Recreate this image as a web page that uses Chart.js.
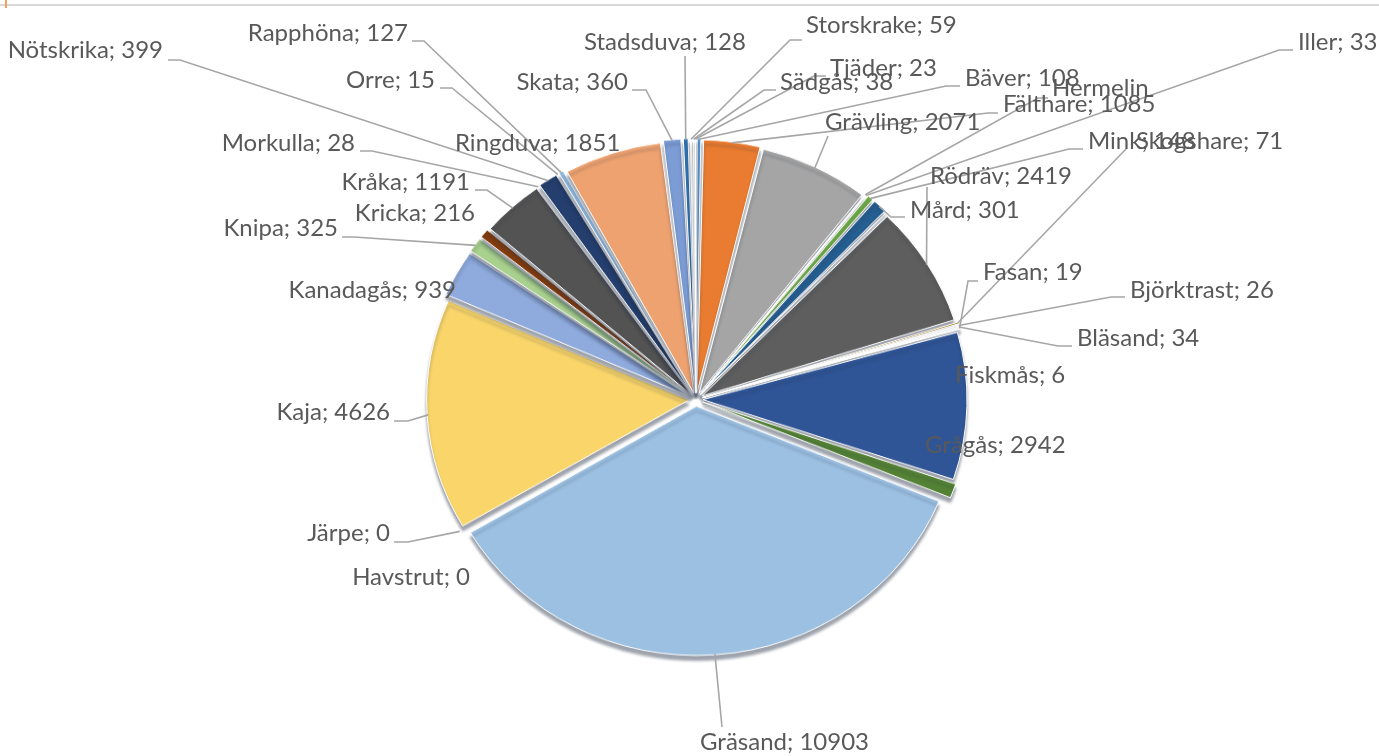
<!DOCTYPE html>
<html>
<head>
<meta charset="utf-8">
<script src="https://cdn.jsdelivr.net/npm/chart.js@4/dist/chart.umd.min.js"></script>
<style>
  html, body { margin: 0; padding: 0; background: #ffffff; }
  #wrap { position: relative; width: 1379px; height: 756px; overflow: hidden; }
  #topline { position: absolute; left: 0; top: 4px; width: 1379px; height: 2px; background: #d9d9d9; }
  #mark { position: absolute; left: 5px; top: 0; width: 2px; height: 8px; background: #f0a060; }
  #c { position: absolute; left: 0; top: 0; transform-origin: 0 0; transform: scaleY(0.95); }
  #labels { position: absolute; left: 0; top: 0; }
</style>
</head>
<body>
<div id="wrap">
  <canvas id="c" width="1379" height="756"></canvas>
  <canvas id="labels" width="1379" height="756"></canvas>
  <div id="topline"></div>
  <div id="mark"></div>
</div>
<script>
// ---- data (clockwise from 12 o'clock) ----
const categories = [
  'Bäver', 'Fälthare', 'Grävling', 'Hermelin', 'Iller', 'Mink', 'Mård', '',
  'Rödräv', 'Skogshare', 'Björktrast', 'Bläsand', 'Fasan', 'Fiskmås', 'Grågås', '',
  'Gräsand', 'Havstrut', 'Järpe', 'Kaja', 'Kanadagås', 'Knipa', 'Kricka', 'Kråka',
  'Morkulla', 'Nötskrika', 'Orre', 'Rapphöna', 'Ringduva', 'Skata', 'Stadsduva',
  'Storskrake', 'Sädgås', 'Tjäder'
];
const values = [
  108, 1085, 2071, 10, 33, 148, 301, 40,
  2419, 71, 26, 34, 19, 6, 2942, 320,
  10903, 0, 0, 4626, 939, 325, 216, 1191,
  28, 399, 15, 127, 1851, 360, 128,
  59, 38, 23
];
const sliceColors = [
  '#5B9BD5', '#E97C30', '#A5A5A5', '#FFC000', '#4472C4', '#70AD47', '#255E91', '#9E480E',
  '#5E5E5E', '#997300', '#F3E3B5', '#C09A1A', '#FFF2CC', '#264478', '#2F5597', '#548235',
  '#9CC0E2', '#F4B183', '#B5B5B5', '#F9D56A', '#8FAADC', '#A9D18E', '#843C0C', '#535353',
  '#7F6000', '#243F6E', '#385723', '#94C0E8', '#EEA26F', '#7C9CD5', '#2E75B6',
  '#C5E0B4', '#FFE699', '#BDD7EE'
];
// the value part of the Hermelin label is hidden in the picture
const showValue = categories.map(c => c !== 'Hermelin');

// ---- label placement (layout only) ----
const labelLayout = {
  'Nötskrika':  {x:163, y:50,  align:'right', lead:[168,60], stub:12},
  'Rapphöna':   {x:408, y:33,  align:'right', lead:[412,41], stub:12},
  'Orre':       {x:435, y:80,  align:'right', lead:[440,88], stub:12},
  'Morkulla':   {x:355, y:143, align:'right', lead:[360,151], stub:12},
  'Kråka':      {x:470, y:182, align:'right', lead:[475,190], stub:12},
  'Kricka':     {x:475, y:213, align:'right'},
  'Knipa':      {x:338, y:228, align:'right', lead:[342,237], stub:12},
  'Kanadagås':  {x:456, y:290, align:'right'},
  'Kaja':       {x:390, y:412, align:'right', lead:[394,421], stub:14},
  'Järpe':      {x:390, y:533, align:'right', lead:[394,542], stub:14},
  'Havstrut':   {x:470, y:577, align:'right'},
  'Gräsand':    {x:700, y:742, align:'left',  lead:[722,727], stub:0},
  'Grågås':     {x:925, y:445, align:'left'},
  'Fiskmås':    {x:955, y:375, align:'left'},
  'Bläsand':    {x:1077, y:338, align:'left', lead:[1072,346], stub:-14},
  'Björktrast': {x:1130, y:290, align:'left', lead:[1125,297], stub:-14},
  'Fasan':      {x:983, y:272, align:'left', lead:[978,281], stub:-10},
  'Skogshare':  {x:1136, y:141, align:'left', lead:[1126,149], stub:0},
  'Mink':       {x:1088, y:141, align:'left', lead:[1083,149], stub:-14},
  'Iller':      {x:1298, y:42,  align:'left', lead:[1293,50], stub:-14},
  'Rödräv':     {x:930, y:176, align:'left', lead:[927,187], stub:0},
  'Mård':       {x:910, y:210, align:'left', lead:[905,217], stub:-14},
  'Grävling':   {x:825, y:122, align:'left', lead:[828,136], stub:0},
  'Hermelin':   {x:1052, y:88,  align:'left', lead:[1048,98], stub:-10},
  'Fälthare':   {x:1003, y:104, align:'left', lead:[998,113], stub:-10},
  'Bäver':      {x:965, y:78,  align:'left', lead:[960,86], stub:-14},
  'Tjäder':     {x:830, y:68,  align:'left', lead:[826,76], stub:-12},
  'Sädgås':     {x:780, y:82,  align:'left', lead:[776,90], stub:-12},
  'Storskrake': {x:806, y:25,  align:'left', lead:[802,40], stub:-12},
  'Stadsduva':  {x:584, y:42,  align:'left', lead:[685,56], stub:0},
  'Skata':      {x:628, y:82,  align:'right', lead:[632,90], stub:14},
  'Ringduva':   {x:455, y:143, align:'left'}
};

const SCALE_Y = 0.95;           // must match the CSS scaleY on #c
const LABEL_FONT = '24px Lato';
const TEXT_COLOR = '#595959';
const LINE_COLOR = '#A6A6A6';

const shadowPlugin = {
  id: 'pieShadow',
  beforeDatasetsDraw(chart) {
    const ctx = chart.ctx;
    ctx.save();
    ctx.shadowColor = 'rgba(40,50,70,0.45)';
    ctx.shadowBlur = 3;
    ctx.shadowOffsetX = 0;
    ctx.shadowOffsetY = 5;
  },
  afterDatasetsDraw(chart) {
    chart.ctx.restore();
  }
};

const labelPlugin = {
  id: 'leaderLabels',
  afterDraw(chart) {
    const ctx = document.getElementById('labels').getContext('2d');
    ctx.clearRect(0, 0, 1379, 756);
    const meta = chart.getDatasetMeta(0);
    ctx.save();
    ctx.strokeStyle = LINE_COLOR;
    ctx.lineWidth = 1.6;
    categories.forEach((cat, i) => {
      const L = labelLayout[cat];
      if (!cat || !L || !L.lead) return;
      const arc = meta.data[i];
      const p = arc.getProps(['x','y','startAngle','endAngle','outerRadius','circumference'], true);
      const mid = (p.startAngle + p.endAngle) / 2;
      const off = (arc.options.offset || 0) / 4;
      const fix = 1 - Math.sin(Math.min(Math.PI, p.circumference || 0));
      const r = p.outerRadius + off + off * fix - 1;
      const tx = p.x + Math.cos(mid) * r;
      const ty = (p.y + Math.sin(mid) * r) * SCALE_Y;
      const sx = L.lead[0], sy = L.lead[1];
      ctx.beginPath();
      ctx.moveTo(sx, sy);
      if (L.stub) ctx.lineTo(sx + L.stub, sy);
      ctx.lineTo(tx, ty);
      ctx.stroke();
    });
    ctx.font = LABEL_FONT;
    ctx.fillStyle = TEXT_COLOR;
    ctx.textBaseline = 'middle';
    categories.forEach((cat, i) => {
      const L = labelLayout[cat];
      if (!cat || !L) return;
      const txt = showValue[i] ? cat + '; ' + values[i] : cat;
      ctx.textAlign = L.align;
      ctx.fillText(txt, L.x, L.y);
    });
    ctx.restore();
  }
};

new Chart(document.getElementById('c'), {
  type: 'pie',
  data: {
    labels: categories,
    datasets: [{
      data: values,
      backgroundColor: sliceColors,
      borderColor: '#ffffff',
      borderWidth: 1,
      offset: 28,
      hoverOffset: 0
    }]
  },
  options: {
    responsive: false,
    animation: false,
    layout: { padding: { top: 145, bottom: 60, left: 300, right: 287 } },
    plugins: {
      legend: { display: false },
      tooltip: { enabled: false }
    }
  },
  plugins: [shadowPlugin, labelPlugin]
});
</script>
</body>
</html>
